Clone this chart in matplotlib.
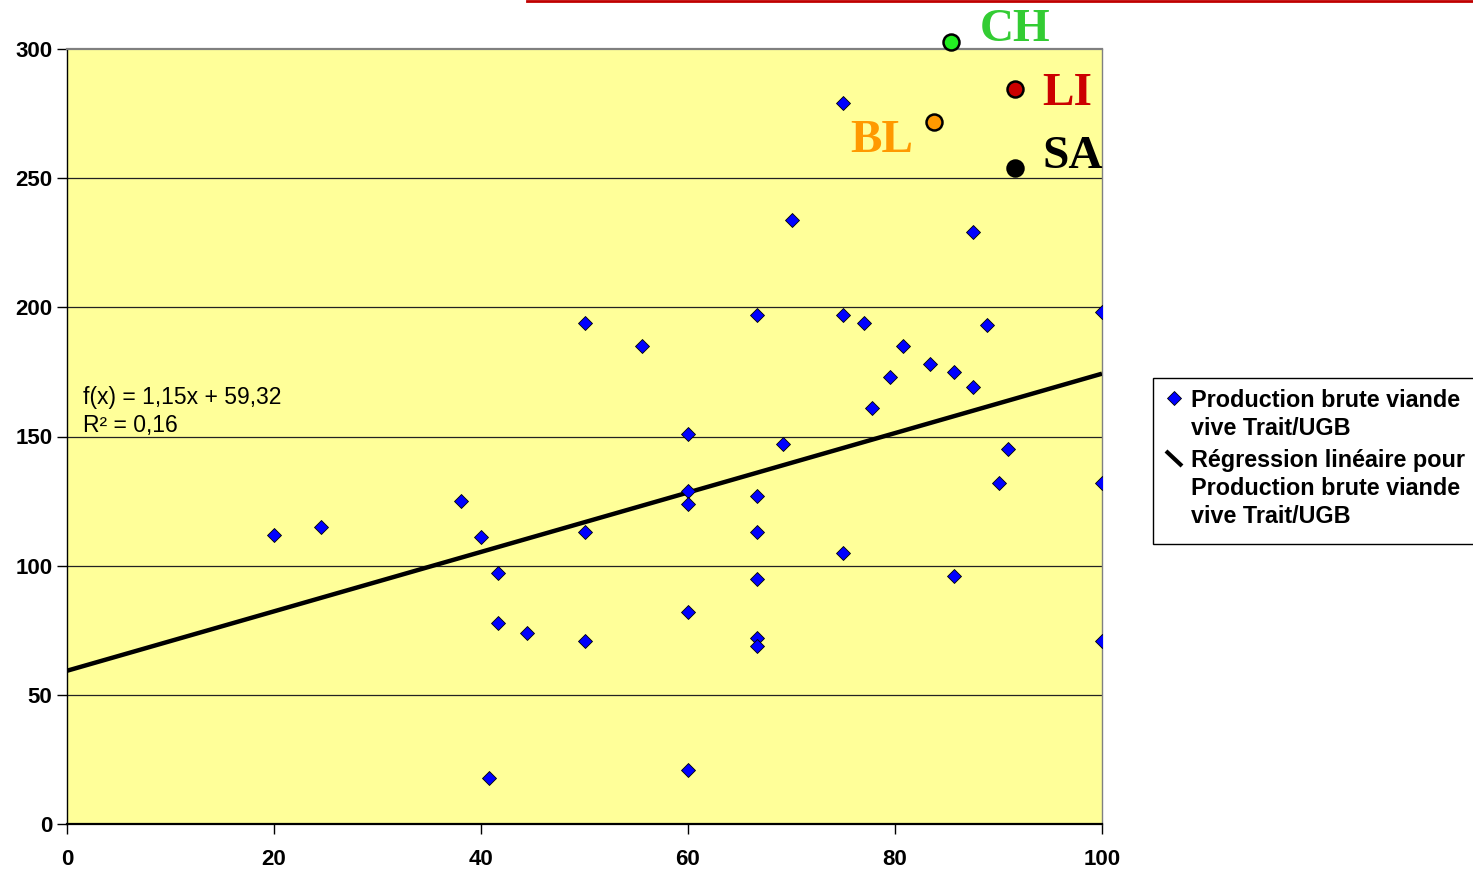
import matplotlib
matplotlib.use("Agg")
import matplotlib.pyplot as plt
from matplotlib.lines import Line2D
from matplotlib.patches import Rectangle
import numpy as np

# ---- data ----
prod_x = [20, 24.5, 38.1, 40, 41.6, 41.6, 44.4, 40.8, 50, 50, 50, 55.6,
          60, 60, 60, 60, 60, 66.7, 66.7, 66.7, 66.7, 66.7, 66.7, 69.2, 70,
          75, 75, 75, 77.0, 77.8, 79.5, 80.8, 83.4, 85.7, 85.7, 87.5, 87.5,
          88.9, 90, 90.9, 100, 100, 100]
prod_y = [112, 115, 125, 111, 97, 78, 74, 18, 194, 113, 71, 185,
          151, 129, 124, 82, 21, 197, 127, 113, 95, 72, 69, 147, 234,
          279, 197, 105, 194, 161, 173, 185, 178, 175, 96, 229, 169,
          193, 132, 145, 198, 132, 71]

breeds = ["CH", "LI", "BL", "SA"]
breed_x = [85.4, 91.6, 83.8, 91.6]
breed_y = [302.8, 284.4, 271.9, 253.8]
breed_fill = ["#22EE22", "#CC0000", "#FF9900", "#000000"]
breed_text = ["#33CC33", "#CC0000", "#FF9900", "#000000"]

reg_slope = 1.15
reg_intercept = 59.32
reg_r2 = 0.16

x_ticks = [0, 20, 40, 60, 80, 100]
y_ticks = [0, 50, 100, 150, 200, 250, 300]

legend_entries = [
    ["Production brute viande", "vive Trait/UGB"],
    ["Régression linéaire pour", "Production brute viande", "vive Trait/UGB"],
]

# ---- figure ----
W, H = 1473, 869
fig = plt.figure(figsize=(W / 100, H / 100), dpi=100)
ax = fig.add_axes([67 / W, 1 - 824 / H, (1102 - 67) / W, (824 - 49) / H])
ax.set_facecolor("#FFFF99")
ax.set_xlim(0, 100)
ax.set_ylim(0, 300)

for yv in y_ticks[1:-1]:
    ax.axhline(yv, color="#222222", lw=0.9, zorder=1)

ax.spines["left"].set_color("black")
ax.spines["left"].set_linewidth(1.0)
ax.spines["bottom"].set_color("black")
ax.spines["bottom"].set_linewidth(1.6)
ax.spines["right"].set_color("#808080")
ax.spines["top"].set_color("#808080")
ax.spines["right"].set_linewidth(1.0)
ax.spines["top"].set_linewidth(1.6)

ax.set_xticks(x_ticks)
ax.set_yticks(y_ticks)
tick_font = dict(family="Liberation Sans", weight="bold", size=16)
ax.set_xticklabels([str(v) for v in x_ticks], **tick_font)
ax.set_yticklabels([str(v) for v in y_ticks], **tick_font)
ax.tick_params(axis="both", direction="out", length=7, width=1, color="black")
ax.tick_params(axis="x", pad=11)
ax.tick_params(axis="y", pad=3.5)

# regression line
xl = np.array(ax.get_xlim())
ax.plot(xl, reg_slope * xl + reg_intercept, color="black", lw=3.2, zorder=3,
        solid_capstyle="butt")

# scatter points
ax.plot(prod_x, prod_y, linestyle="none", marker="D", markersize=7,
        markerfacecolor="#0000FF", markeredgecolor="black",
        markeredgewidth=0.6, zorder=4)

# breed points
for name, bx, by, fc in zip(breeds, breed_x, breed_y, breed_fill):
    ax.plot([bx], [by], linestyle="none", marker="o", markersize=11.5,
            markerfacecolor=fc, markeredgecolor="black", markeredgewidth=1.8,
            zorder=5, clip_on=False)

label_off = {"CH": (2.8, 0.3), "LI": (2.6, -5.9), "BL": (-8.1, -11.8), "SA": (2.6, 0.0)}
for name, bx, by, tc in zip(breeds, breed_x, breed_y, breed_text):
    dx, dy = label_off[name]
    ax.text(bx + dx, by + dy, name, color=tc, fontsize=34, fontweight="bold",
            family="Liberation Serif", va="baseline", ha="left", zorder=6,
            clip_on=False)

# equation
eq_font = dict(family="Liberation Sans", size=16.5, color="black")
eq_str = "f(x) = %sx + %s" % (f"{reg_slope:.2f}".replace(".", ","),
                              f"{reg_intercept:.2f}".replace(".", ","))
ax.text(1.55, 162.6, eq_str, va="baseline", ha="left", **eq_font)
ax.text(1.55, 151.8, "R² = %s" % f"{reg_r2:.2f}".replace(".", ","),
        va="baseline", ha="left", **eq_font)

# ---- legend (manual, Excel style) ----
fig.add_artist(Rectangle((1153 / W, 1 - 544 / H), (1480 - 1153) / W, (544 - 378) / H,
                         transform=fig.transFigure, facecolor="white",
                         edgecolor="black", lw=1.0, zorder=2))
fig.add_artist(Line2D([1174 / W], [1 - 398 / H], transform=fig.transFigure,
                      marker="D", markersize=7, markerfacecolor="#0000FF",
                      markeredgecolor="black", markeredgewidth=0.6,
                      linestyle="none", zorder=3))
fig.add_artist(Line2D([1166 / W, 1182 / W], [1 - 451 / H, 1 - 466 / H],
                      transform=fig.transFigure, color="black", lw=3.0,
                      solid_capstyle="butt", zorder=3))
leg_font = dict(family="Liberation Sans", weight="bold", size=16.8, color="black")
baselines = [[407, 435], [467, 495, 523]]
for entry, bls in zip(legend_entries, baselines):
    for line, bl in zip(entry, bls):
        fig.text(1191 / W, 1 - bl / H, line, va="baseline", ha="left", zorder=4,
                 **leg_font)

# red rule at top
fig.add_artist(Line2D([527 / W, 1.0], [1 - 1 / H, 1 - 1 / H], transform=fig.transFigure,
                      color="#C00000", lw=2.0))

fig.savefig("out.png", dpi=100)
